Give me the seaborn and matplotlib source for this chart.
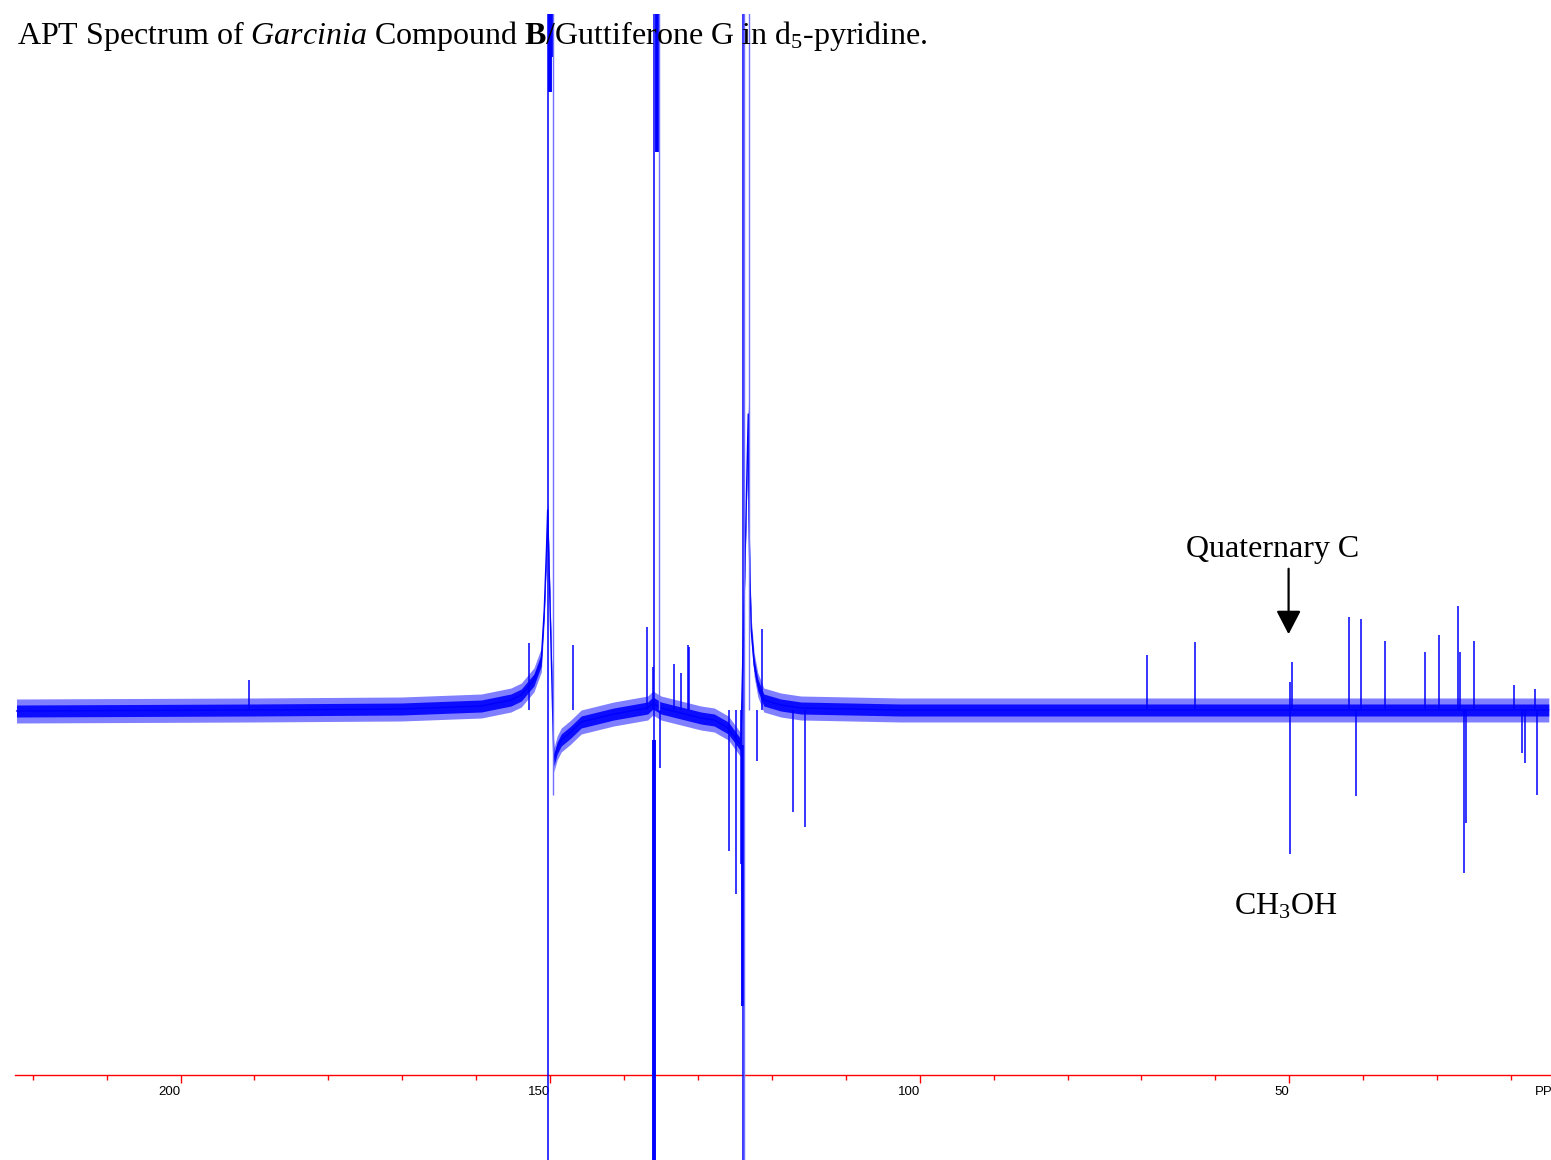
"""APT 13C spectrum of Garcinia compound B (Guttiferone G) in d5-pyridine."""
import matplotlib
matplotlib.use("Agg")  # non-interactive backend
import matplotlib.pyplot as plt
import seaborn as sns

# baseline drift (ppm, intensity; 0 = flat baseline)
base_ppm = [222.2, 190.4, 170.1, 159.3, 155.3, 153.9, 152.2, 151.2, 150.8, 150.5,
            150.34, 149.5, 149.05, 148.5, 147.2, 145.8, 141.4, 136.8, 136.1, 135.0,
            132.3, 129.6, 127.8, 125.9, 124.9, 124.2, 123.2, 123.1, 122.97, 122.8,
            122.4, 121.9, 121.1, 118.8, 116.1, 102.6, 14.9]
base_int = [-1, 0, 1, 4, 10, 15, 30, 50, 100, 160,
            200, -50, -38, -30, -22, -12, -4, 2, 7, 2,
            -3, -8, -10, -18, -28, -35, 296, 190, 130, 80,
            45, 25, 10, 5, 2, 0, 0]

# resolved signals: position and extent of each stick
peak_ppm = [190.7, 152.8, 146.9, 136.85, 136.1, 135.1, 133.3, 132.3, 131.4, 131.2,
            125.8, 124.8, 124.2, 122.0, 121.4, 117.2, 115.5,
            69.2, 62.75, 49.96, 49.86, 49.6, 41.9, 41.04, 40.3, 37.0,
            31.58, 29.73, 27.2, 26.9, 26.35, 26.1, 25.0,
            19.6, 18.55, 18.1, 16.76, 16.5]
peak_lo = [0, 0, 0, 0, 0, -58, 0, 0, 0, 0,
           -141, -184, -154, -51, 0, -102, -117,
           0, 0, 0, -144, 0, 0, -86, 0, 0,
           0, 0, 0, 0, -163, -113, 0,
           0, -43, -53, 0, -85]
peak_hi = [30, 67, 65, 83, 43, 0, 46, 37, 65, 63,
           0, 0, 0, 0, 81, 0, 0,
           55, 68, 28, 0, 48, 93, 0, 91, 69,
           58, 75, 104, 58, 0, 0, 69,
           25, 0, 0, 21, 0]

# off-scale pyridine-d5 lines
solvent_ppm = [150.23, 135.95, 123.93]
solvent_lo = [-800, -800, -800]
solvent_hi = [800, 800, 800]
solvent_core_ppm = [150.05, 149.8, 135.6, 135.95, 123.93]
solvent_core_lo = [618, 653, 558, -800, -296]
solvent_core_hi = [800, 800, 800, -30, -35]
solvent_edge_ppm = [149.57, 135.27, 123.83, 123.15]
solvent_edge_lo = [-85, 0, -800, 0]
solvent_edge_hi = [800, 800, 800, 800]

major_ticks = [200, 150, 100, 50]
minor_ticks = [220, 210, 190, 180, 170, 160, 140, 130, 120, 110,
               90, 80, 70, 60, 40, 30, 20]

BLUE = "#0000ff"
NOISE = 6

sns.set_style("white")
plt.rcParams["font.family"] = ["Liberation Serif", "DejaVu Serif"]
plt.rcParams["text.color"] = "black"
plt.rcParams["xtick.color"] = "red"
plt.rcParams["xtick.labelcolor"] = "black"
plt.rcParams["mathtext.fontset"] = "custom"
plt.rcParams["mathtext.rm"] = "Liberation Serif"
plt.rcParams["mathtext.it"] = "Liberation Serif:italic"
plt.rcParams["mathtext.bf"] = "Liberation Serif:bold"

fig = plt.figure(figsize=(15.51, 11.60), dpi=100)
ax = fig.add_axes([15 / 1551, 0, 1536 / 1551, 1146 / 1160])

# baseline + noise band
ax.fill_between(base_ppm, [v - 2 * NOISE for v in base_int],
                [v + 2 * NOISE for v in base_int], color=BLUE, alpha=0.5, lw=0, zorder=3)
ax.fill_between(base_ppm, [v - NOISE for v in base_int],
                [v + NOISE for v in base_int], color=BLUE, alpha=0.9, lw=0, zorder=3)
sns.lineplot(x=base_ppm, y=base_int, color=BLUE, lw=1.0, estimator=None,
             sort=False, ax=ax, zorder=3)

ax.vlines(peak_ppm, peak_lo, peak_hi, color=BLUE, lw=1.1, zorder=3)
ax.vlines(solvent_ppm, solvent_lo, solvent_hi, color=BLUE, lw=1.1, zorder=3)
ax.vlines(solvent_core_ppm, solvent_core_lo, solvent_core_hi, color=BLUE, lw=2.8, zorder=3)
ax.vlines(solvent_edge_ppm, solvent_edge_lo, solvent_edge_hi, color="#7070ff", lw=1.0, zorder=3)

ax.set_xlim(222.4, 14.6)
ax.set_ylim(-450, 696)

# red ppm scale
for side in ["top", "left", "right"]:
    ax.spines[side].set_visible(False)
ax.spines["bottom"].set_position(("data", -365))
ax.spines["bottom"].set_color("red")
ax.spines["bottom"].set_linewidth(1.0)
ax.spines["bottom"].set_zorder(2)
ax.set_yticks([])
ax.set_xticks(major_ticks)
ax.set_xticks(minor_ticks, minor=True)
ax.tick_params(axis="x", which="both", bottom=True, top=False, direction="out",
               color="red", width=1)
ax.tick_params(axis="x", which="major", length=6, pad=2, labelsize=9.5,
               labelcolor="black")
ax.tick_params(axis="x", which="minor", length=3.6)
for lab in ax.get_xticklabels():
    lab.set_fontfamily("Liberation Sans")
    lab.set_horizontalalignment("right")
ax.text(16.76, -376, "PPM", family="Liberation Sans", fontsize=9.5, ha="left", va="top",
        clip_on=False)

# annotations
ax.annotate("", xy=(50.1, 73), xytext=(50.1, 144),
            arrowprops=dict(arrowstyle="-|>,head_width=0.375,head_length=0.72",
                            mutation_scale=20, color="black", lw=1.6))
ax.text(52.2, 161, "Quaternary C", fontsize=23, ha="center", va="center")
ax.text(50.4, -197, r"CH$_3$OH", fontsize=23, ha="center", va="center")

fig.text(17 / 1551, 1 - 36 / 1160,
         r"APT Spectrum of $\it{Garcinia}$ Compound $\bf{B}$/Guttiferone G in d$_5$-pyridine.",
         fontsize=23, ha="left", va="center")

fig.savefig("out.png", dpi=100)
plt.close(fig)
